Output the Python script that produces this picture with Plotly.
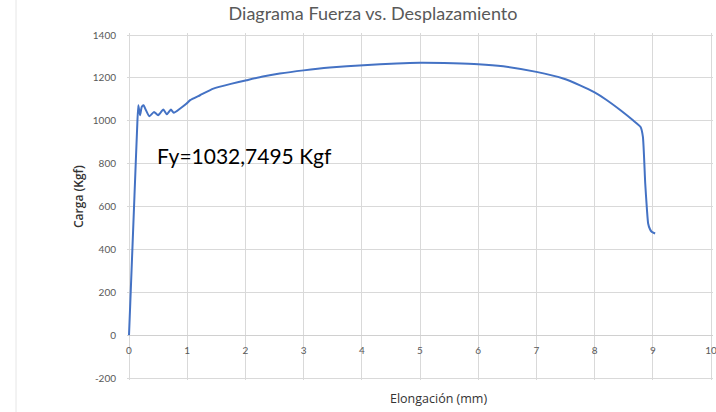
import plotly.graph_objects as go

# Elongation (mm) and load (Kgf)
elongacion = [0, 0.022, 0.094, 0.139, 0.16, 0.19, 0.22, 0.25, 0.29, 0.35, 0.43, 0.50,
              0.59, 0.65, 0.72, 0.77, 0.88, 0.99, 1.05, 1.22, 1.45, 1.75, 2.02, 2.3,
              2.59, 3.0, 3.45, 4.03, 4.6, 5.0, 5.57, 6.0, 6.43, 7.0, 7.46, 7.75, 8.0,
              8.2, 8.44, 8.66, 8.79, 8.83, 8.87, 8.90, 8.92, 8.95, 8.98, 9.04]
carga = [0, 150, 650, 960, 1072, 1026, 1065, 1072, 1050, 1021, 1041, 1026,
         1052, 1030, 1052, 1037, 1057, 1080, 1096, 1119, 1150, 1172, 1189, 1206,
         1220, 1235, 1248, 1259, 1267, 1270, 1268, 1264, 1254, 1228, 1197, 1165, 1132,
         1098, 1050, 1002, 971, 925, 707, 583, 521, 495, 482, 474]

x_ticks = list(range(0, 11))
y_ticks = list(range(-200, 1401, 200))

titulo = "Diagrama Fuerza vs. Desplazamiento"
x_titulo = "Elongación (mm)"
y_titulo = "Carga (Kgf)"
anotacion = "Fy=1032,7495 Kgf"

FONT = "Lato"
FONT2 = "Open Sans"
GRAY = "#595959"
GRID = "#D9D9D9"

fig = go.Figure()
fig.add_trace(go.Scatter(x=elongacion, y=carga, mode="lines",
                         line=dict(color="#4472C4", width=2, shape="spline", smoothing=0.5),
                         showlegend=False, hoverinfo="x+y"))

W, H = 716, 412
# small padding so that edge grid lines (0, 10, -200, 1400) are drawn
L, R, T, B = 127, 3, 33, 32
PW, PH = W - L - R, H - T - B
xpad = 2 * 10 / 582
ypad = 2 * 1600 / 343
xr = [0 - xpad, 10 + xpad]
yr = [-200 - ypad, 1400 + ypad]
y0_frac = (0 - yr[0]) / (yr[1] - yr[0])

fig.update_layout(
    width=W, height=H,
    margin=dict(l=L, r=R, t=T, b=B, autoexpand=False),
    paper_bgcolor="white", plot_bgcolor="white",
    font=dict(family=FONT, color=GRAY),
    title=dict(text=titulo, x=373 / W, xanchor="center",
               y=1 - 14 / H, yanchor="middle",
               font=dict(size=18, color=GRAY, family=FONT)),
    xaxis=dict(range=xr, tickvals=x_ticks, ticktext=[str(v) for v in x_ticks],
               showgrid=True, gridcolor=GRID, gridwidth=1,
               zeroline=False, showline=False,
               anchor="free", position=y0_frac, ticklabeloverflow="allow",
               ticks="outside", ticklen=6, tickcolor="rgba(0,0,0,0)",
               tickfont=dict(size=10, color=GRAY, family=FONT)),
    yaxis=dict(range=yr, tickvals=y_ticks, ticktext=[str(v) for v in y_ticks],
               showgrid=True, gridcolor=GRID, gridwidth=1,
               zeroline=True, zerolinecolor="#D0D0D0", zerolinewidth=1,
               showline=False, ticklabeloverflow="allow",
               ticks="outside", ticklen=8, tickcolor="rgba(0,0,0,0)",
               tickfont=dict(size=10, color=GRAY, family=FONT)),
)

fig.add_annotation(text=x_titulo, xref="paper", yref="paper", x=(438 - L) / PW,
                   y=-(398 - (H - B)) / PH, xanchor="center", yanchor="middle",
                   showarrow=False, font=dict(size=12.5, color="#333333", family=FONT2))
fig.add_annotation(text=y_titulo, xref="paper", yref="paper",
                   x=(78 - L) / PW, y=((H - B) - 197) / PH, xanchor="center",
                   yanchor="middle", textangle=-90, showarrow=False,
                   font=dict(size=12, color="#333333", family=FONT2, weight=600))
fig.add_annotation(text=anotacion, xref="x", yref="y", x=1.99, y=839,
                   xanchor="center", yanchor="middle", showarrow=False,
                   font=dict(size=21, color="black", family=FONT))

# faint outer border line on the left of the chart image
fig.add_shape(type="line", xref="paper", yref="paper",
              x0=(16 - L) / PW, x1=(16 - L) / PW, y0=-0.2, y1=1.2,
              line=dict(color="#E6E6E6", width=1))

fig.write_html("out.html", config={"displayModeBar": False},
               post_script="document.body.style.margin='0';document.body.style.overflow='hidden';")
